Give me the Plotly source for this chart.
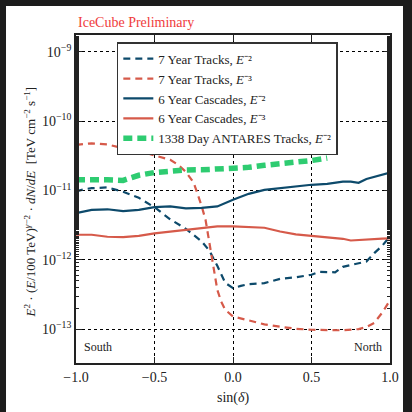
import plotly.graph_objects as go

# ---- data ----
sin_dec_casc = [-1.0, -0.9, -0.8, -0.7, -0.6, -0.5, -0.4, -0.3, -0.2, -0.1, 0.0, 0.1, 0.2, 0.3, 0.4, 0.5, 0.6, 0.7, 0.75, 0.8, 0.85, 0.9, 0.95, 1.0]
casc_e2 = [4.72e-12, 5.26e-12, 5.36e-12, 5.05e-12, 5.26e-12, 5.76e-12, 5.91e-12, 5.53e-12, 5.6e-12, 5.9e-12, 7.34e-12, 8.96e-12, 1.02e-11, 1.08e-11, 1.15e-11, 1.21e-11, 1.25e-11, 1.34e-11, 1.34e-11, 1.29e-11, 1.47e-11, 1.58e-11, 1.66e-11, 1.82e-11]
casc_e3 = [2.30e-12, 2.30e-12, 2.15e-12, 2.13e-12, 2.22e-12, 2.41e-12, 2.55e-12, 2.71e-12, 2.87e-12, 3.03e-12, 3.03e-12, 2.98e-12, 2.90e-12, 2.56e-12, 2.33e-12, 2.22e-12, 2.11e-12, 2.01e-12, 1.90e-12, 1.94e-12, 1.97e-12, 1.99e-12, 2.02e-12, 2.04e-12]

sin_dec_trk2 = [-1.0, -0.95, -0.9, -0.8, -0.7, -0.6, -0.5, -0.4, -0.3, -0.2, -0.15, -0.1, -0.05, 0.0, 0.05, 0.1, 0.2, 0.3, 0.4, 0.5, 0.55, 0.65, 0.7, 0.8, 0.85, 0.9, 0.95, 1.0]
trk_e2 = [9.68e-12, 1.04e-11, 1.08e-11, 1.11e-11, 9.58e-12, 7.85e-12, 5.73e-12, 3.84e-12, 2.80e-12, 1.85e-12, 1.35e-12, 8.2e-13, 4.66e-13, 3.9e-13, 4.2e-13, 4.46e-13, 4.6e-13, 5.3e-13, 5.6e-13, 6.08e-13, 6.7e-13, 6.6e-13, 7.9e-13, 8.9e-13, 9.45e-13, 1.25e-12, 1.59e-12, 2.18e-12]

sin_dec_trk3 = [-1.0, -0.9, -0.8, -0.7, -0.6, -0.5, -0.4, -0.35, -0.3, -0.25, -0.2, -0.175, -0.15, -0.125, -0.1, -0.075, -0.05, 0.0, 0.1, 0.2, 0.3, 0.4, 0.5, 0.6, 0.7, 0.8, 0.85, 0.9, 0.95, 1.0]
trk_e3 = [4.56e-11, 4.8e-11, 4.64e-11, 4.06e-11, 3.74e-11, 3.25e-11, 2.77e-11, 2.35e-11, 1.86e-11, 1.29e-11, 6.0e-12, 3.78e-12, 1.82e-12, 8.5e-13, 3.69e-13, 2.48e-13, 1.9e-13, 1.52e-13, 1.32e-13, 1.17e-13, 1.08e-13, 1.01e-13, 9.77e-14, 9.6e-14, 9.6e-14, 1.0e-13, 1.07e-13, 1.23e-13, 1.72e-13, 2.6e-13]

sin_dec_ant = [-1.0, -0.9, -0.8, -0.7, -0.6, -0.5, -0.4, -0.3, -0.2, -0.1, 0.0, 0.1, 0.2, 0.3, 0.4, 0.5, 0.6]
antares_e2 = [1.43e-11, 1.45e-11, 1.43e-11, 1.40e-11, 1.66e-11, 1.82e-11, 1.91e-11, 1.98e-11, 1.99e-11, 2.02e-11, 2.09e-11, 2.16e-11, 2.31e-11, 2.41e-11, 2.55e-11, 2.71e-11, 2.94e-11]

x_ticks = [-1.0, -0.5, 0.0, 0.5, 1.0]
y_ticks = [1e-13, 1e-12, 1e-11, 1e-10, 1e-9]
y_ticktext = ["10<sup>−13</sup>", "10<sup>−12</sup>", "10<sup>−11</sup>", "10<sup>−10</sup>", "10<sup>−9</sup>"]

BLUE = "#0d4a6b"
RED = "#d65a4a"
GREEN = "#2ecc71"
FONT = "Liberation Serif"

fig = go.Figure()
fig.add_trace(go.Scatter(x=sin_dec_trk2, y=trk_e2, mode="lines",
                         line=dict(color=BLUE, width=2.2, dash="7px,5px"),
                         name="7 Year Tracks, <i>E</i>⁻²"))
fig.add_trace(go.Scatter(x=sin_dec_trk3, y=trk_e3, mode="lines",
                         line=dict(color=RED, width=2.2, dash="7px,5px"),
                         name="7 Year Tracks, <i>E</i>⁻³"))
fig.add_trace(go.Scatter(x=sin_dec_casc, y=casc_e2, mode="lines",
                         line=dict(color=BLUE, width=2.2),
                         name="6 Year Cascades, <i>E</i>⁻²"))
fig.add_trace(go.Scatter(x=sin_dec_casc, y=casc_e3, mode="lines",
                         line=dict(color=RED, width=2.2),
                         name="6 Year Cascades, <i>E</i>⁻³"))
fig.add_trace(go.Scatter(x=sin_dec_ant, y=antares_e2, mode="lines",
                         line=dict(color=GREEN, width=5.5, dash="9px,5px"),
                         name="1338 Day ANTARES Tracks, <i>E</i>⁻²"))

axis_common = dict(showline=True, linecolor="#222", linewidth=1.8, mirror="ticks",
                   ticks="inside", tickcolor="#222", ticklen=6, tickwidth=1,
                   showgrid=True, gridcolor="#000", griddash="dot", gridwidth=1,
                   zeroline=False, tickfont=dict(family=FONT, size=14, color="#222"))

fig.update_xaxes(range=[-1, 1], tickvals=x_ticks, tickformat=".1f", **axis_common)
fig.update_yaxes(type="log", range=[-13.49, -8.755], tickvals=y_ticks, ticktext=y_ticktext,
                 minor=dict(ticks="inside", ticklen=3, tickcolor="#222", showgrid=False),
                 **axis_common)

fig.update_layout(
    width=412, height=412,
    margin=dict(l=76, r=22, t=35, b=49),
    paper_bgcolor="#1c1c1c", plot_bgcolor="white",
    font=dict(family=FONT, color="#222"),
    showlegend=True,
    legend=dict(x=0.13, y=0.978, xanchor="left", yanchor="top",
                bgcolor="white", bordercolor="#333", borderwidth=1.5,
                font=dict(family=FONT, size=13, color="#222"),
                itemwidth=30, tracegroupgap=0),
    shapes=[dict(type="rect", xref="paper", yref="paper",
                 x0=-0.2229, x1=1.0414, y0=-0.2, y1=1.0884,
                 fillcolor="white", line=dict(width=0), layer="below")],
    annotations=[
        dict(text="IceCube Preliminary", xref="paper", yref="paper", x=0, y=1,
             xanchor="left", yanchor="bottom", yshift=3, showarrow=False,
             font=dict(family=FONT, size=14, color="#f03c3c")),
        dict(text="<i>E</i><sup>2</sup> · (<i>E</i>/100 TeV)<sup><i>γ</i>−2</sup> · <i>dN</i>/<i>dE</i>  [TeV cm<sup>−2</sup> s<sup>−1</sup>]",
             xref="paper", yref="paper", x=-0.146, y=0.49, textangle=-90,
             xanchor="center", yanchor="middle", showarrow=False,
             font=dict(family=FONT, size=13, color="#222")),
        dict(text="sin(<i>δ</i>)", xref="paper", yref="paper", x=0.5, y=-0.075,
             xanchor="center", yanchor="top", showarrow=False,
             font=dict(family=FONT, size=14, color="#222")),
        dict(text="South", xref="paper", yref="paper", x=0.02, y=0.02,
             xanchor="left", yanchor="bottom", showarrow=False,
             font=dict(family=FONT, size=12, color="#222")),
        dict(text="North", xref="paper", yref="paper", x=0.98, y=0.02,
             xanchor="right", yanchor="bottom", showarrow=False,
             font=dict(family=FONT, size=12, color="#222")),
    ],
)

fig.write_html("out.html")
